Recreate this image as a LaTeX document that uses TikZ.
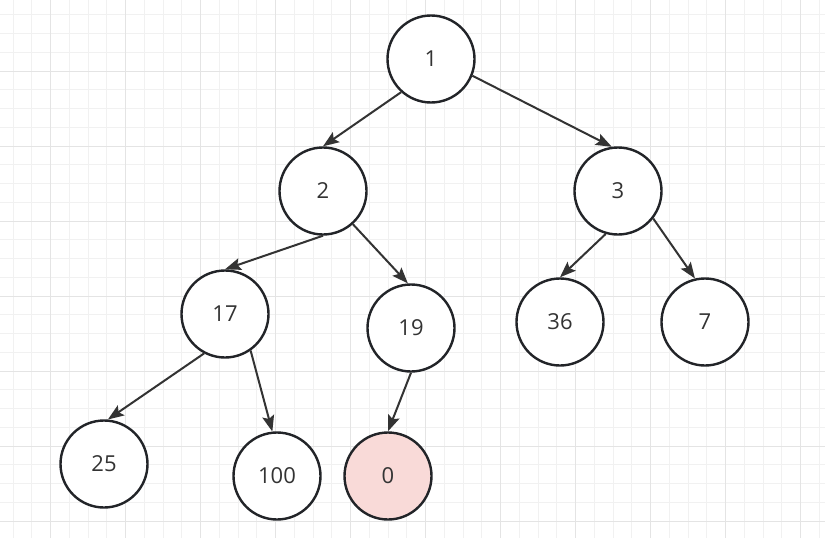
\documentclass[tikz,border=0pt]{standalone}
\usepackage{fontspec}
\setmainfont{Open Sans}
\usepackage{xcolor}
\usetikzlibrary{arrows.meta}

\definecolor{gridmin}{RGB}{241,241,241}
\definecolor{gridmaj}{RGB}{228,228,228}
\definecolor{inkdark}{RGB}{34,36,40}
\definecolor{edgeink}{RGB}{51,51,51}
\definecolor{hilite}{RGB}{249,218,216}

\begin{document}
\begin{tikzpicture}[x=1pt, y=-1pt, >={Stealth[length=16pt, width=12pt, inset=3pt]},
    heapnode/.style={circle, draw=inkdark, line width=2.4pt, fill=white,
                     minimum size=87pt, inner sep=0pt, text=edgeink,
                     font=\fontsize{22}{26}\selectfont},
    heapedge/.style={->, draw=edgeink, line width=2pt}]
  \useasboundingbox (0,0) rectangle (825,538);
  \fill[white] (0,0) rectangle (825,538);
  % background grid
  \begin{scope}
    \clip (0,0) rectangle (825,538);
    \foreach \gx in {0,...,43}
      \draw[gridmin, line width=1pt] ({13.2+18.75*\gx},0) -- ++(0,538);
    \foreach \gy in {0,...,28}
      \draw[gridmin, line width=1pt] (0,{14.75+18.75*\gy}) -- ++(825,0);
    \foreach \gx in {0,...,10}
      \draw[gridmaj, line width=1pt] ({50.7+75*\gx},0) -- ++(0,538);
    \foreach \gy in {0,...,6}
      \draw[gridmaj, line width=1pt] (0,{71+75*\gy}) -- ++(825,0);
  \end{scope}

  % heap nodes
  \node[heapnode] (n1)   at (431,59)  {1};
  \node[heapnode] (n2)   at (323,191) {2};
  \node[heapnode] (n3)   at (618,191) {3};
  \node[heapnode] (n17)  at (225,314) {17};
  \node[heapnode] (n19)  at (411,328) {19};
  \node[heapnode] (n36)  at (560,322) {36};
  \node[heapnode] (n7)   at (705,322) {7};
  \node[heapnode] (n25)  at (104,464) {25};
  \node[heapnode] (n100) at (277,476) {100};
  \node[heapnode, fill=hilite] (n0) at (388,476) {0};

  % edges
  \draw[heapedge] (n1.228) -- (n2.north);
  \draw[heapedge] (n1.338) -- (n3.98);
  \draw[heapedge] (n2.south) -- (n17.north);
  \draw[heapedge] (n2.312) -- (n19.94);
  \draw[heapedge] (n3.254) -- (n36.north);
  \draw[heapedge] (n3.322) -- (n7.103);
  \draw[heapedge] (n17.242) -- (n25.85);
  \draw[heapedge] (n17.305) -- (n100.96);
  \draw[heapedge] (n19.south) -- (n0.north);
\end{tikzpicture}
\end{document}
